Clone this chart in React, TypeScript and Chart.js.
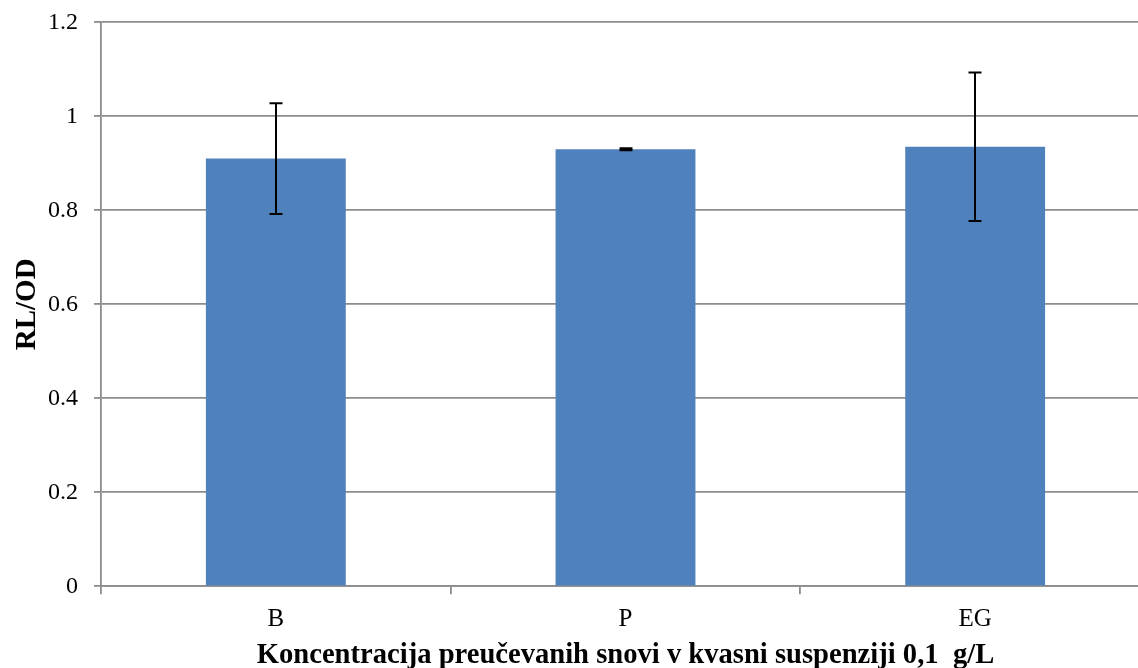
import React, { useEffect, useRef } from "react";
import { Chart, registerables } from "chart.js";

Chart.register(...registerables);

const categories = ["B", "P", "EG"];
const values = [0.91, 0.93, 0.935];
const errors = [0.118, 0.002, 0.158];
const yTickValues = [0, 0.2, 0.4, 0.6, 0.8, 1, 1.2];
const xTitle = "Koncentracija preučevanih snovi v kvasni suspenziji 0,1  g/L";
const yTitle = "RL/OD";

const FONT = "'Liberation Serif', 'Times New Roman', serif";
const GRID = "#8c8c8c";
const CANVAS_W = 1160;
const CANVAS_H = 680;

const errorBarPlugin = {
  id: "errorBars",
  afterDatasetsDraw(chart: any) {
    const meta = chart.getDatasetMeta(0);
    const y = chart.scales.y;
    const ctx = chart.ctx;
    ctx.save();
    ctx.strokeStyle = "#000";
    ctx.lineWidth = 2;
    meta.data.forEach((bar: any, i: number) => {
      const x = Math.round(bar.x);
      const top = y.getPixelForValue(values[i] + errors[i]);
      const bot = y.getPixelForValue(values[i] - errors[i]);
      ctx.beginPath();
      ctx.moveTo(x, top);
      ctx.lineTo(x, bot);
      ctx.moveTo(x - 6.5, top);
      ctx.lineTo(x + 6.5, top);
      ctx.moveTo(x - 6.5, bot);
      ctx.lineTo(x + 6.5, bot);
      ctx.stroke();
    });
    ctx.restore();
  },
};

export default function App() {
  const ref = useRef<HTMLCanvasElement | null>(null);

  useEffect(() => {
    if (!ref.current) return;
    const chart = new Chart(ref.current, {
      type: "bar",
      data: {
        labels: categories,
        datasets: [
          {
            data: values,
            backgroundColor: "#4F81BD",
            borderWidth: 0,
            categoryPercentage: 1,
            barPercentage: 0.4,
          },
        ],
      },
      options: {
        responsive: false,
        animation: false,
        layout: { padding: { top: 22.3, right: 10, left: 0, bottom: 0 } },
        plugins: { legend: { display: false }, tooltip: { enabled: false } },
        scales: {
          x: {
            grid: {
              display: true,
              drawOnChartArea: false,
              drawTicks: true,
              tickLength: 8,
              color: GRID,
              lineWidth: 1.8,
              offset: true,
            },
            border: { color: GRID, width: 1.8 },
            ticks: { color: "#000", padding: 10, font: { family: FONT, size: 25 } },
            title: {
              display: true,
              text: xTitle,
              color: "#000",
              font: { family: FONT, size: 28.6, weight: "bold" },
              padding: { top: 0, bottom: 7 },
            },
            afterFit(s: any) {
              s.height = CANVAS_H - 586.3;
              s.paddingLeft = 0;
              s.paddingRight = 0;
            },
          },
          y: {
            min: 0,
            max: 1.2,
            ticks: {
              stepSize: 0.2,
              padding: 16,
              color: "#000",
              font: { family: FONT, size: 24 },
              callback: (v: any) => {
                const n = Number(Number(v).toFixed(1));
                return yTickValues.includes(n) ? String(n) : "";
              },
            },
            grid: { color: GRID, lineWidth: 1.8, tickLength: 7 },
            border: { color: GRID, width: 1.8 },
            title: {
              display: true,
              text: yTitle,
              color: "#000",
              font: { family: FONT, size: 29, weight: "bold" },
              padding: { top: 10, bottom: 0 },
            },
            afterFit(s: any) {
              s.width = 101;
              s.paddingTop = 0;
              s.paddingBottom = 0;
            },
          },
        },
      },
      plugins: [errorBarPlugin],
    });
    return () => chart.destroy();
  }, []);

  return (
    <div
      style={{
        position: "fixed",
        left: 0,
        top: 0,
        width: 1138,
        height: 668,
        overflow: "hidden",
        background: "#fff",
      }}
    >
      <canvas ref={ref} width={CANVAS_W} height={CANVAS_H} style={{ display: "block" }} />
    </div>
  );
}
